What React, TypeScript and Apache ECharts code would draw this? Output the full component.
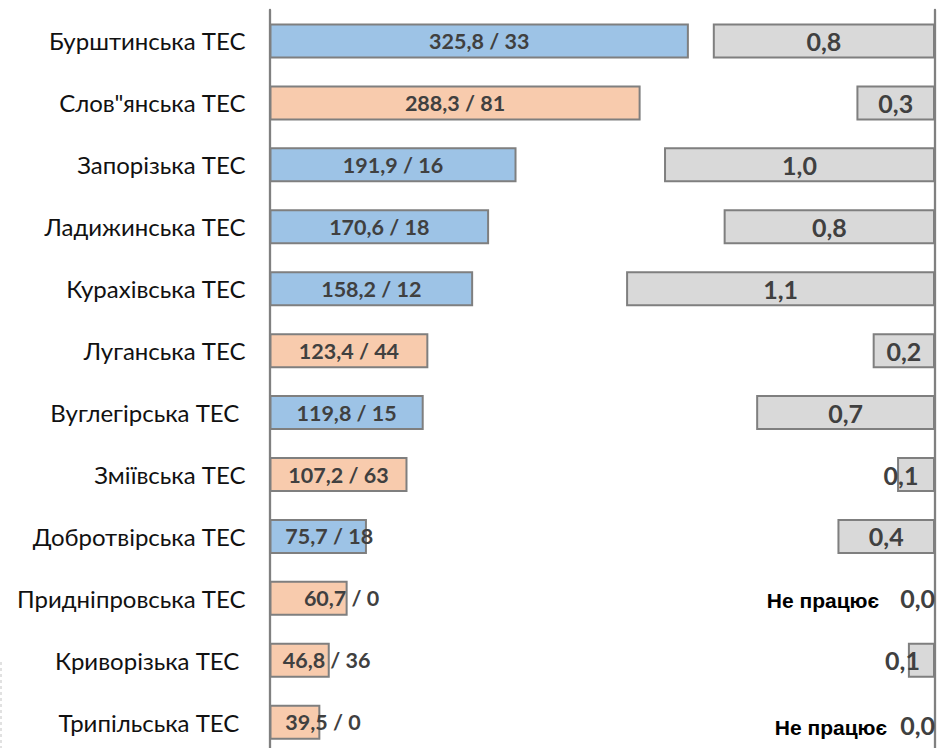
import { useEffect, useRef } from "react";
import * as echarts from "echarts";

const plants = [
  "Бурштинська ТЕС",
  "Слов\"янська ТЕС",
  "Запорізька ТЕС",
  "Ладижинська ТЕС",
  "Курахівська ТЕС",
  "Луганська ТЕС",
  "Вуглегірська ТЕС ",
  "Зміївська ТЕС",
  "Добротвірська ТЕС",
  "Придніпровська ТЕС",
  "Криворізька ТЕС ",
  "Трипільська ТЕС ",
];
const output = [325.8, 288.3, 191.9, 170.6, 158.2, 123.4, 119.8, 107.2, 75.7, 60.7, 46.8, 39.5];
const secondFigure = [33, 81, 16, 18, 12, 44, 15, 63, 18, 0, 36, 0];
const ownerGroup = ["A", "B", "A", "A", "A", "B", "A", "B", "A", "B", "B", "B"];
const ratio = [0.82, 0.29, 1.0, 0.78, 1.14, 0.23, 0.66, 0.14, 0.36, 0, 0.1, 0];
const idleText = "Не працює";

const BLUE = "#9DC3E6";
const ORANGE = "#F8CBAD";
const GRAY = "#D9D9D9";
const BORDER = "#7F7F7F";
const LABEL = "#404040";

const leftNudge: Record<number, number> = { 8: 11, 9: 33, 10: 27, 11: 28 };
const rightNudge: Record<number, number> = { 7: -15, 10: -19 };
const idleStyleKey: Record<number, string> = { 9: "np", 11: "np2" };
const idleOffset: Record<number, number[]> = { 9: [0, 0], 11: [0, 3] };

const fmt = (v: number) => v.toFixed(1).replace(".", ",");

export default function App() {
  const ref = useRef<HTMLDivElement>(null);
  useEffect(() => {
    if (!ref.current) return;
    const chart = echarts.init(ref.current, undefined, { renderer: "svg" });
    const axisLine = { show: true, onZero: false, lineStyle: { color: "#808080", width: 2.3 } };
    const npBase = {
      fontFamily: "Liberation Sans",
      fontWeight: "bold",
      fontSize: 21,
      color: "#000",
    };
    chart.setOption({
      animation: false,
      backgroundColor: "#ffffff",
      grid: { left: 269.5, right: 2, top: 10, bottom: 6.8, containLabel: false },
      xAxis: [
        { type: "value", min: 0, max: 517, show: false },
        { type: "value", min: 0, max: 2.456, inverse: true, show: false },
      ],
      yAxis: [
        {
          type: "category",
          data: plants,
          inverse: true,
          axisLine,
          axisTick: { show: false },
          splitLine: { show: false },
          axisLabel: { fontFamily: "Lato", fontSize: 24, color: "#111", margin: 24 },
        },
        {
          type: "category",
          data: plants,
          inverse: true,
          position: "right",
          axisLine,
          axisTick: { show: false },
          splitLine: { show: false },
          axisLabel: { show: false },
        },
      ],
      series: [
        {
          type: "bar",
          xAxisIndex: 0,
          yAxisIndex: 0,
          barWidth: 35,
          itemStyle: { borderColor: BORDER, borderWidth: 2 },
          label: {
            show: true,
            position: "inside",
            color: LABEL,
            fontFamily: "Lato",
            fontWeight: "bold",
            fontSize: 21.5,
            formatter: (p: any) => `${fmt(p.value)} / ${secondFigure[p.dataIndex]}`,
          },
          data: output.map((v, i) => ({
            value: v,
            itemStyle: { color: ownerGroup[i] === "A" ? BLUE : ORANGE },
            label: leftNudge[i] !== undefined ? { offset: [leftNudge[i], 0] } : undefined,
          })),
        },
        {
          type: "bar",
          xAxisIndex: 1,
          yAxisIndex: 1,
          barWidth: 35,
          itemStyle: { color: GRAY, borderColor: BORDER, borderWidth: 2 },
          label: {
            show: true,
            position: "inside",
            color: LABEL,
            fontFamily: "Lato",
            fontWeight: "bold",
            fontSize: 25,
            formatter: (p: any) =>
              p.value === 0
                ? `{${idleStyleKey[p.dataIndex] || "np"}|${idleText}}{v|${fmt(p.value)}}`
                : fmt(p.value),
            rich: {
              np: { ...npBase, padding: [5, 21, 0, 0] },
              np2: { ...npBase, padding: [5, 13, 0, 0] },
              v: { fontFamily: "Lato", fontWeight: "bold", fontSize: 25, color: LABEL },
            },
          },
          data: ratio.map((v, i) =>
            v === 0
              ? {
                  value: v,
                  label: { position: "left", distance: -1, offset: idleOffset[i] || [0, 0] },
                }
              : {
                  value: v,
                  label: rightNudge[i] !== undefined ? { offset: [rightNudge[i], 0] } : undefined,
                }
          ),
        },
      ],
      graphic: [
        {
          type: "line",
          shape: { x1: 1, y1: 662, x2: 1, y2: 748 },
          style: { stroke: "#d8d8d8", lineWidth: 1.5, lineDash: [3, 3] },
        },
      ],
    });
    return () => chart.dispose();
  }, []);
  return (
    <div
      ref={ref}
      style={{ position: "fixed", left: 0, top: 0, width: 937, height: 760 }}
    />
  );
}
